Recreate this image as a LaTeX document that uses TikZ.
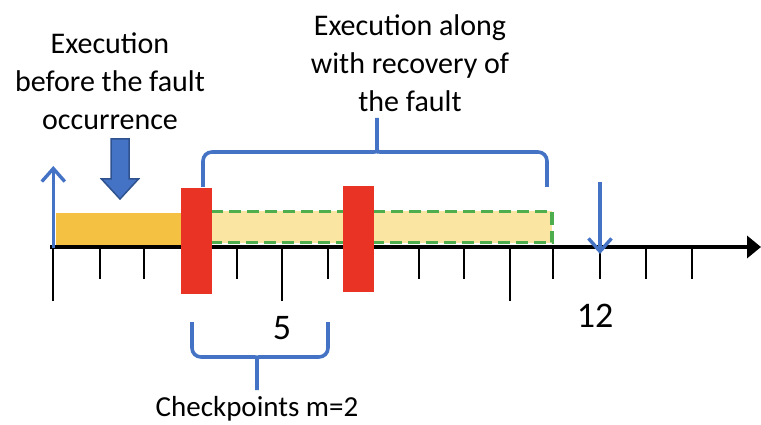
\documentclass[tikz,border=0pt]{standalone}
\usepackage{fontspec}
\setmainfont{Carlito}
\usetikzlibrary{arrows.meta}
\definecolor{bblue}{HTML}{4472C4}
\definecolor{bdark}{HTML}{2F528F}
\definecolor{orangebar}{HTML}{F5C142}
\definecolor{lightbar}{HTML}{FBE5A2}
\definecolor{dgreen}{HTML}{4EAE4E}
\definecolor{cpred}{HTML}{E83325}
\tikzset{
  lbl/.style={align=center, inner sep=0pt, font=\fontsize{30}{38}\selectfont},
  numlbl/.style={inner sep=0pt, font=\fontsize{36}{40}\selectfont},
  cptext/.style={inner sep=0pt, font=\fontsize{29}{34}\selectfont},
  redbox/.style={fill=cpred, draw=none, minimum width=31pt, minimum height=106pt, inner sep=0pt},
  tickmark/.style={line width=2.2pt, black},
  brace/.style={line width=3.6pt, bblue, rounded corners=9pt},
  thinarrow/.style={line width=3.4pt, bblue, -{Straight Barb[length=13pt,width=23pt]}},
  axisline/.style={line width=3.6pt, black, -{Triangle[length=14pt,width=22pt]}},
}
\begin{document}
\begin{tikzpicture}[x=1pt,y=-1pt]
\useasboundingbox (0,0) rectangle (761,425);
% bars
\fill[orangebar] (56,213) rectangle (190,247);
\draw[fill=lightbar, draw=dgreen, line width=3.6pt, dash pattern=on 12pt off 6pt] (205,211.5) rectangle (552,242.5);
% axis
\coordinate (ax0) at (50,247);
\coordinate (axE) at (761,247);
\draw[axisline] (ax0) -- (axE);
\foreach \x in {100,143.7,190,236.7,327.7,373,419.3,464.3,553,600,646,691.7}
  \draw[tickmark] (\x,247) -- (\x,279);
\foreach \x in {52.7,282,510}
  \draw[tickmark] (\x,247) -- (\x,301);
% checkpoints
\node[redbox] (cp1) at (196.5,241) {};
\node[redbox] (cp2) at (358.5,239) {};
% arrows
\coordinate (upA) at (53.3,248);
\coordinate (upB) at (53.3,166);
\draw[thinarrow] (upA) -- (upB);
\coordinate (dnA) at (600,182);
\coordinate (dnB) at (600,254);
\draw[thinarrow] (dnA) -- (dnB);
\draw[fill=bblue, draw=bdark, line width=1.5pt, line join=miter]
  (111,139) -- (129,139) -- (129,179) -- (138.5,179) -- (120,199) -- (101.5,179) -- (111,179) -- cycle;
% top brace
\coordinate (tbL) at (203,187);
\coordinate (tbR) at (547,187);
\coordinate (tbT) at (377,118);
\draw[brace] (tbL) -- (203,152) -- (365,152) .. controls (377,152) and (377,152) .. (377,140) -- (tbT);
\draw[brace] (377,140) .. controls (377,152) and (377,152) .. (389,152) -- (547,152) -- (tbR);
% bottom brace
\coordinate (bbL) at (192,322);
\coordinate (bbR) at (328,322);
\coordinate (bbT) at (257,390);
\draw[brace] (bbL) -- (192,357) -- (246,357) .. controls (257,357) and (257,357) .. (257,368) -- (bbT);
\draw[brace] (257,368) .. controls (257,357) and (257,357) .. (268,357) -- (328,357) -- (bbR);
% texts
\node[lbl] (pre) at (110,81) {Execution\\before the fault\\occurrence};
\node[lbl] (rec) at (410,63) {Execution along\\with recovery of\\the fault};
\node[numlbl] (five) at (282,328) {5};
\node[numlbl] (twelve) at (595,316) {12};
\node[cptext] (cpl) at (257,409) {Checkpoints m=2};
\end{tikzpicture}
\end{document}
